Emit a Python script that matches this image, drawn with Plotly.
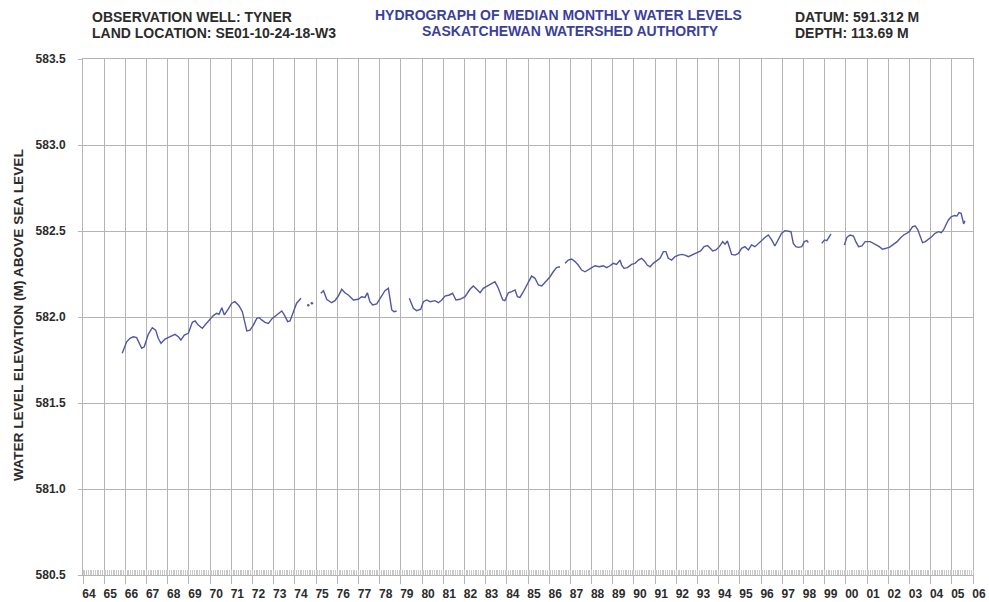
import plotly.graph_objects as go

# Median monthly water levels, observation well Tyner (decimal year, metres above sea level).
# None marks months with no record.
years = [
    1965.85, 1966.06, 1966.22, 1966.37, 1966.53, 1966.61, 1966.77, 1966.89, 1967.08, 1967.27,
    1967.43, 1967.55, 1967.68, 1967.87, 1968.11, 1968.34, 1968.50, 1968.62, 1968.78, 1968.97,
    1969.16, 1969.29, 1969.44, 1969.63, 1969.79, 1969.99, 1970.15, 1970.31, 1970.42, 1970.55,
    1970.67, 1970.86, 1971.02, 1971.17, 1971.36, 1971.52, 1971.65, 1971.73, 1971.88, 1972.04,
    1972.20, 1972.32, 1972.43, 1972.59, 1972.75, 1972.93, 1973.14, 1973.38, 1973.50, 1973.66,
    1973.77, 1973.93, 1974.08, 1974.29, 1974.46,
    1974.63, 1974.72, 1974.80, 1975.00,
    1975.22, 1975.35, 1975.50, 1975.73, 1975.89, 1976.05, 1976.21, 1976.36, 1976.52, 1976.76,
    1976.99, 1977.15, 1977.31, 1977.42, 1977.54, 1977.67, 1977.86, 1978.02, 1978.25, 1978.41,
    1978.49, 1978.57, 1978.68, 1978.80, 1979.10,
    1979.40, 1979.59, 1979.74, 1979.94, 1980.06, 1980.22, 1980.38, 1980.61, 1980.77, 1980.93,
    1981.08, 1981.29, 1981.44, 1981.60, 1981.79, 1982.03, 1982.26, 1982.42, 1982.58, 1982.74,
    1982.89, 1983.08, 1983.29, 1983.44, 1983.60, 1983.71, 1983.81, 1983.91, 1984.07, 1984.23,
    1984.39, 1984.50, 1984.62, 1984.78, 1984.97, 1985.17, 1985.33, 1985.49, 1985.65, 1985.85,
    1986.04, 1986.19, 1986.35, 1986.51, 1986.63,
    1986.75, 1986.90, 1987.06, 1987.22, 1987.37, 1987.53, 1987.69, 1987.85, 1988.01, 1988.16,
    1988.36, 1988.55, 1988.71, 1988.87, 1989.02, 1989.18, 1989.34, 1989.42, 1989.53, 1989.69,
    1989.89, 1990.05, 1990.21, 1990.36, 1990.49, 1990.63, 1990.76, 1990.91, 1991.07, 1991.23,
    1991.39, 1991.51, 1991.62, 1991.78, 1991.94, 1992.10, 1992.26, 1992.41, 1992.57, 1992.73,
    1992.96, 1993.15, 1993.31, 1993.47, 1993.60, 1993.72, 1993.87, 1994.03, 1994.19, 1994.30,
    1994.41, 1994.50, 1994.61, 1994.77, 1994.93, 1995.08, 1995.24, 1995.40, 1995.55, 1995.71,
    1995.87, 1996.03, 1996.18, 1996.34, 1996.50, 1996.65, 1996.81, 1996.97, 1997.13, 1997.29,
    1997.41, 1997.52, 1997.64, 1997.76, 1997.92, 1998.04, 1998.16, 1998.23, 1998.50,
    1998.86, 1998.99, 1999.10, 1999.21, 1999.30, 1999.60,
    1999.93, 2000.05, 2000.20, 2000.36, 2000.47, 2000.60, 2000.76, 2000.91, 2001.15, 2001.39,
    2001.58, 2001.73, 2001.90, 2002.05, 2002.21, 2002.42, 2002.56, 2002.73, 2002.89, 2002.99,
    2003.15, 2003.28, 2003.40, 2003.51, 2003.62, 2003.75, 2003.90, 2004.05, 2004.21, 2004.37,
    2004.50, 2004.61, 2004.72, 2004.84, 2004.97, 2005.12, 2005.24, 2005.34, 2005.44, 2005.50,
    2005.56, 2005.62,
]
levels = [
    581.789, 581.856, 581.876, 581.885, 581.880, 581.856, 581.818, 581.827, 581.899, 581.938,
    581.924, 581.876, 581.847, 581.872, 581.885, 581.899, 581.885, 581.866, 581.895, 581.905,
    581.969, 581.977, 581.953, 581.934, 581.958, 581.983, 582.008, 582.021, 582.016, 582.054,
    582.012, 582.047, 582.080, 582.089, 582.066, 582.031, 581.963, 581.919, 581.924, 581.953,
    581.992, 581.996, 581.983, 581.969, 581.963, 581.992, 582.012, 582.035, 582.012, 581.973,
    581.977, 582.031, 582.080, 582.109, None,
    582.068, None, 582.080, None,
    582.138, 582.153, 582.103, 582.083, 582.095, 582.122, 582.161, 582.141, 582.128, 582.099,
    582.103, 582.118, 582.114, 582.141, 582.089, 582.070, 582.076, 582.109, 582.153, 582.167,
    582.099, 582.041, 582.031, 582.035, None,
    582.109, 582.051, 582.037, 582.045, 582.089, 582.099, 582.089, 582.095, 582.083, 582.099,
    582.122, 582.128, 582.138, 582.099, 582.103, 582.118, 582.161, 582.180, 582.161, 582.141,
    582.167, 582.180, 582.196, 582.205, 582.167, 582.128, 582.099, 582.095, 582.141, 582.147,
    582.157, 582.118, 582.114, 582.147, 582.196, 582.238, 582.225, 582.186, 582.180, 582.205,
    582.234, 582.263, 582.287, 582.292, None,
    582.312, 582.331, 582.337, 582.322, 582.302, 582.273, 582.263, 582.273, 582.287, 582.298,
    582.292, 582.298, 582.287, 582.298, 582.312, 582.306, 582.331, 582.302, 582.283, 582.287,
    582.306, 582.312, 582.331, 582.341, 582.326, 582.302, 582.292, 582.312, 582.326, 582.341,
    582.380, 582.380, 582.341, 582.331, 582.351, 582.360, 582.364, 582.360, 582.351, 582.360,
    582.370, 582.384, 582.409, 582.415, 582.399, 582.384, 582.390, 582.409, 582.438, 582.423,
    582.442, 582.399, 582.364, 582.360, 582.370, 582.399, 582.409, 582.390, 582.419, 582.409,
    582.428, 582.442, 582.462, 582.477, 582.448, 582.413, 582.452, 582.487, 582.502, 582.496,
    582.496, 582.428, 582.409, 582.405, 582.409, 582.438, 582.444, 582.432, None,
    582.428, 582.448, 582.444, 582.463, 582.483, None,
    582.419, 582.463, 582.477, 582.471, 582.438, 582.409, 582.413, 582.438, 582.438, 582.424,
    582.409, 582.394, 582.399, 582.405, 582.419, 582.438, 582.458, 582.477, 582.487, 582.496,
    582.525, 582.529, 582.506, 582.467, 582.432, 582.438, 582.452, 582.467, 582.487, 582.496,
    582.490, 582.506, 582.535, 582.564, 582.583, 582.590, 582.587, 582.607, 582.603, 582.560,
    582.541, 582.560,
]

year_ticks = list(range(1964, 2007))
year_labels = [f"{y % 100:02d}" for y in year_ticks]
level_ticks = [580.5, 581.0, 581.5, 582.0, 582.5, 583.0, 583.5]

LINE_COLOR = "#5257a4"
GRID_COLOR = "#b4b4b4"
TEXT_COLOR = "#2b2b2b"
TITLE_COLOR = "#3b3f9c"
FONT = "Liberation Sans, Arial, sans-serif"

W, H = 989, 602
L, R, T, B = 83, 16, 59, 27


def paper_x(px):
    return (px - L) / (W - L - R)


def paper_y(py):
    return (H - B - py) / (H - T - B)


# single readings surrounded by missing months get a dot so they stay visible
iso_x, iso_y = [], []
for i, v in enumerate(levels):
    prev_missing = i == 0 or levels[i - 1] is None
    next_missing = i == len(levels) - 1 or levels[i + 1] is None
    if v is not None and prev_missing and next_missing:
        iso_x.append(years[i])
        iso_y.append(v)

fig = go.Figure()
fig.add_trace(go.Scatter(
    x=years, y=levels, mode="lines", connectgaps=False,
    line=dict(color=LINE_COLOR, width=1.4), hoverinfo="x+y", showlegend=False,
))
fig.add_trace(go.Scatter(
    x=iso_x, y=iso_y, mode="markers",
    marker=dict(color=LINE_COLOR, size=2.5), showlegend=False,
))

fig.update_xaxes(
    range=[1964, 2006], tickmode="array", tickvals=year_ticks, ticktext=year_labels,
    ticks="outside", ticklen=8, tickcolor=GRID_COLOR, ticklabelshift=6,
    tickfont=dict(family=FONT, size=12, color=TEXT_COLOR, weight="bold"),
    showgrid=True, gridcolor=GRID_COLOR, gridwidth=1,
    showline=True, linecolor=GRID_COLOR, linewidth=1, mirror=True,
    minor=dict(dtick=1 / 12, tick0=1964, ticks="inside", ticklen=5,
               tickcolor="#c8c8c8", tickwidth=1, showgrid=False),
    zeroline=False, fixedrange=True, automargin=False,
)
fig.update_yaxes(
    range=[580.5, 583.5], tickmode="array", tickvals=level_ticks,
    ticktext=[f"{v:.1f}" for v in level_ticks],
    ticks="outside", ticklen=4, tickcolor=GRID_COLOR, ticklabelstandoff=10,
    tickfont=dict(family=FONT, size=12, color=TEXT_COLOR, weight="bold"),
    showgrid=True, gridcolor=GRID_COLOR, gridwidth=1,
    showline=True, linecolor=GRID_COLOR, linewidth=1, mirror=True,
    zeroline=False, fixedrange=True, automargin=False,
)

header_font = dict(family=FONT, size=14, color=TEXT_COLOR, weight="bold")
title_font = dict(family=FONT, size=14, color=TITLE_COLOR, weight="bold")
notes = [
    ("OBSERVATION WELL: TYNER", 90, 17, "left", header_font),
    ("LAND LOCATION: SE01-10-24-18-W3", 90, 33, "left", header_font),
    ("HYDROGRAPH OF MEDIAN MONTHLY WATER LEVELS", 558, 15, "center", title_font),
    ("SASKATCHEWAN WATERSHED AUTHORITY", 570, 31, "center", title_font),
    ("DATUM: 591.312 M", 793, 17, "left", header_font),
    ("DEPTH: 113.69 M", 793, 33, "left", header_font),
]
for text, px, py, anchor, font in notes:
    fig.add_annotation(
        text=text, x=paper_x(px), y=paper_y(py), xref="paper", yref="paper",
        xanchor=anchor, yanchor="middle", showarrow=False, font=font,
    )

fig.add_annotation(
    text="WATER LEVEL ELEVATION (M) ABOVE SEA LEVEL",
    x=paper_x(18), y=paper_y(315), xref="paper", yref="paper",
    xanchor="center", yanchor="middle", textangle=-90, showarrow=False,
    font=dict(family=FONT, size=13.7, color=TEXT_COLOR, weight="bold"),
)

fig.update_layout(
    width=W, height=H,
    margin=dict(l=L, r=R, t=T, b=B, pad=0),
    paper_bgcolor="white", plot_bgcolor="white",
    showlegend=False,
)

fig.write_html("out.html")
